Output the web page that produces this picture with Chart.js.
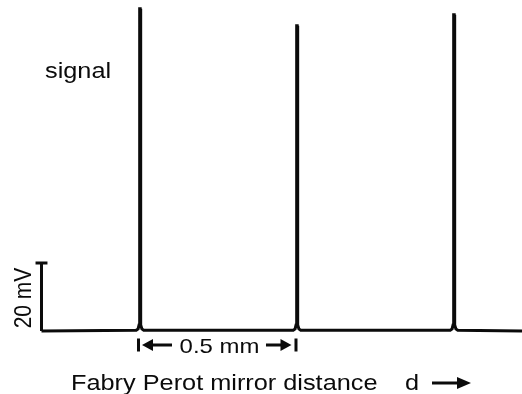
<!DOCTYPE html>
<html>
<head>
<meta charset="utf-8">
<script src="https://cdn.jsdelivr.net/npm/chart.js@4/dist/chart.umd.min.js"></script>
<style>
  html, body { margin: 0; padding: 0; background: #fff; }
  #wrap { width: 522px; height: 394px; position: relative; }
</style>
</head>
<body>
<div id="wrap"><canvas id="fp"></canvas></div>
<script>
// Fabry-Perot scan: mirror distance (mm) against detector signal (mV)
const distanceMm = [-0.3137,
                    -0.012, -0.006, -0.003, -0.0014, -0.0006, 0.0006, 0.0014, 0.003, 0.006, 0.012,
                    0.488, 0.494, 0.497, 0.4986, 0.4994, 0.5006, 0.5014, 0.503, 0.506, 0.512,
                    0.988, 0.994, 0.997, 0.9986, 0.9994, 1.0006, 1.0014, 1.003, 1.006, 1.012,
                    1.2166];
const signalMv   = [0,
                    0.2, 0.6, 1.8, 7, 94.8, 94.8, 7, 1.8, 0.6, 0.2,
                    0.2, 0.6, 1.8, 7, 89.8, 89.8, 7, 1.8, 0.6, 0.2,
                    0.2, 0.6, 1.8, 7, 93.0, 93.0, 7, 1.8, 0.6, 0.2,
                    0];

// Vertical scale bar (mV) and the fringe spacing marker (mm)
const scaleBarMv = [0, 20];
const scaleBarX = -0.3137;
const scaleBarTickHalf = 0.019;
const spacingFromMm = 0.0;
const spacingToMm = 0.5;

// Text labels
const signalLabel = 'signal';
const scaleBarLabel = '20 mV';
const spacingLabel = '0.5 mm';
const axisLabel = 'Fabry Perot mirror distance';
const axisSymbol = 'd';

const ink = '#0b0b0b';
const FONT = '"Liberation Sans", Arial, Helvetica, sans-serif';

const trace = distanceMm.map((x, i) => ({ x, y: signalMv[i] }));
const barLine = scaleBarMv.map(y => ({ x: scaleBarX, y }));
const barTick = [{ x: scaleBarX - scaleBarTickHalf, y: scaleBarMv[1] },
                 { x: scaleBarX + scaleBarTickHalf, y: scaleBarMv[1] }];

function stretchedText(ctx, text, x, y, size, sx) {
  ctx.save();
  ctx.translate(x, y);
  ctx.scale(sx, 1);
  ctx.font = size + 'px ' + FONT;
  ctx.textAlign = 'left';
  ctx.textBaseline = 'alphabetic';
  ctx.fillText(text, 0, 0);
  const w = ctx.measureText(text).width * sx;
  ctx.restore();
  return w;
}

function arrowHead(ctx, tipX, y, dir, len, half) {
  ctx.beginPath();
  ctx.moveTo(tipX, y);
  ctx.lineTo(tipX - dir * len, y - half);
  ctx.lineTo(tipX - dir * len, y + half);
  ctx.closePath();
  ctx.fill();
}

const annotations = {
  id: 'annotations',
  afterDatasetsDraw(chart) {
    const { ctx, scales: { x, y } } = chart;
    ctx.save();
    ctx.fillStyle = ink;
    ctx.strokeStyle = ink;

    // "signal"
    stretchedText(ctx, signalLabel, 45, 78, 22, 1.15);

    // scale bar label, reading upward
    const yMid = (y.getPixelForValue(scaleBarMv[0]) + y.getPixelForValue(scaleBarMv[1])) / 2;
    ctx.save();
    ctx.translate(30.5, yMid + 1);
    ctx.rotate(-Math.PI / 2);
    ctx.scale(1, 1.12);
    ctx.font = '21px ' + FONT;
    ctx.textAlign = 'center';
    ctx.textBaseline = 'alphabetic';
    ctx.fillText(scaleBarLabel, 0, 0);
    ctx.restore();

    // fringe spacing marker |<- 0.5 mm ->|
    const xa = x.getPixelForValue(spacingFromMm);
    const xb = x.getPixelForValue(spacingToMm);
    const ym = 345;
    ctx.lineWidth = 3;
    ctx.beginPath();
    ctx.moveTo(xa - 1.5, ym - 6.5); ctx.lineTo(xa - 1.5, ym + 6.5);
    ctx.moveTo(xb - 1, ym - 6.5); ctx.lineTo(xb - 1, ym + 6.5);
    ctx.moveTo(xa + 8, ym); ctx.lineTo(xa + 32, ym);
    ctx.moveTo(xb - 31, ym); ctx.lineTo(xb - 12, ym);
    ctx.stroke();
    arrowHead(ctx, xa + 2, ym, -1, 11, 6);
    arrowHead(ctx, xb - 5.5, ym, 1, 11, 6);
    ctx.save();
    ctx.font = '21px ' + FONT;
    const tw = ctx.measureText(spacingLabel).width * 1.14;
    ctx.restore();
    stretchedText(ctx, spacingLabel, (xa + xb) / 2 + 1 - tw / 2, 353, 21, 1.14);

    // axis caption with direction arrow
    stretchedText(ctx, axisLabel, 71, 390, 22, 1.15);
    stretchedText(ctx, axisSymbol, 405, 390, 22, 1.15);
    const ay = 383;
    ctx.lineWidth = 3;
    ctx.beginPath();
    ctx.moveTo(432, ay); ctx.lineTo(460, ay);
    ctx.stroke();
    arrowHead(ctx, 471, ay, 1, 14, 6);

    ctx.restore();
  }
};

new Chart(document.getElementById('fp'), {
  type: 'line',
  data: {
    datasets: [
      { data: trace, borderColor: ink, borderWidth: 3, pointRadius: 0, tension: 0,
        borderJoinStyle: 'miter', clip: false },
      { data: barLine, borderColor: ink, borderWidth: 3, pointRadius: 0, clip: false },
      { data: barTick, borderColor: ink, borderWidth: 3, pointRadius: 0, clip: false }
    ]
  },
  options: {
    responsive: true,
    maintainAspectRatio: false,
    animation: false,
    events: [],
    layout: { padding: { left: 30, right: 0, top: 0, bottom: 63 } },
    plugins: { legend: { display: false }, tooltip: { enabled: false } },
    scales: {
      x: { type: 'linear', display: false, min: -0.3503, max: 1.2166 },
      y: { type: 'linear', display: false, min: 0, max: 97.35 }
    }
  },
  plugins: [annotations]
});
</script>
</body>
</html>
